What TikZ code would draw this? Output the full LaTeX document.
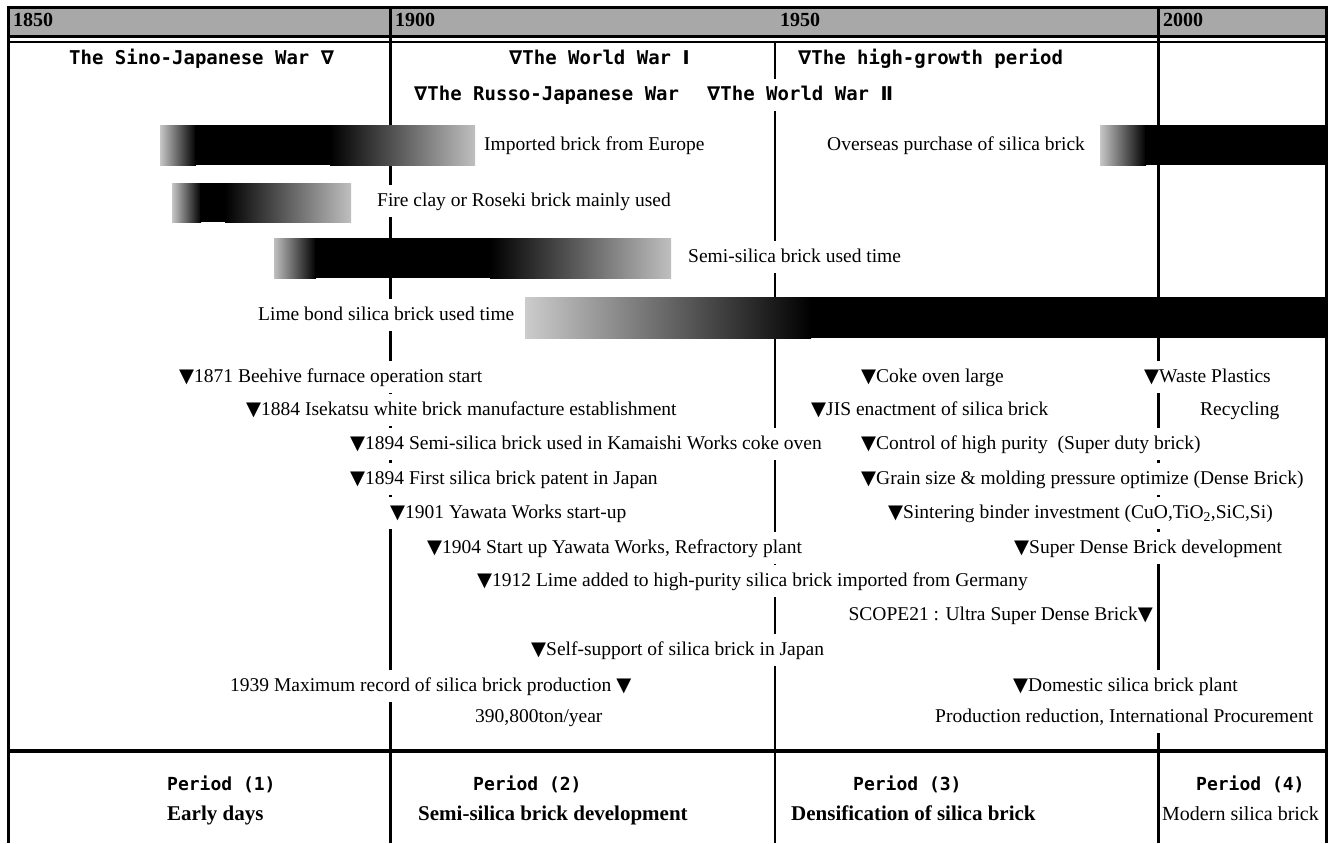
\documentclass[tikz,border=0pt]{standalone}
\usepackage{fontspec}
\setmainfont{Liberation Serif}
\newfontfamily\gothic{DejaVu Sans Mono}
\newfontfamily\symf{DejaVu Sans}
\newcommand{\tri}{{\symf ▼}}
\newcommand{\nab}{{\symf\bfseries ∇}}
\definecolor{hdrgray}{RGB}{168,168,168}
\newcommand{\seg}[6]{\fill[left color=#5, right color=#6, draw=none] (#1,#3) rectangle (#2,#4);}
\tikzset{
  ev/.style={anchor=west, fill=white, inner xsep=1pt, inner ysep=9pt, font=\fontsize{19.5}{22}\selectfont, text height=13pt, text depth=1.5pt},
  war/.style={anchor=west, fill=white, inner xsep=1pt, inner ysep=8pt, font=\gothic\bfseries\fontsize{19}{22}\selectfont, text height=13pt, text depth=3pt},
  yr/.style={anchor=west, inner sep=0pt, font=\bfseries\fontsize{20}{22}\selectfont, text height=13pt, text depth=3pt},
  per/.style={anchor=west, inner sep=0pt, font=\gothic\bfseries\fontsize{18}{20}\selectfont, text height=13pt, text depth=3pt},
  sub/.style={anchor=west, inner sep=0pt, font=\bfseries\fontsize{21}{23}\selectfont, text height=14pt, text depth=3pt},
  thickl/.style={line width=3pt},
  thinl/.style={line width=1.5pt},
}
\begin{document}
\begin{tikzpicture}[x=1pt,y=-1pt]
\useasboundingbox (0,0) rectangle (1335,843);
% header
\fill[hdrgray] (8,8) rectangle (1326,37);
% internal vertical lines
\draw[thickl] (390,8) -- (390,843);
\draw[thickl] (1158,8) -- (1158,843);
\draw[thinl] (775,42) -- (775,843);
% bars
\seg{160}{196}{125}{165}{black!22}{black}
\fill[black] (195,125) rectangle (331,165);
\seg{330}{475}{125}{165}{black}{black!25}
\seg{172}{201}{183}{222}{black!22}{black}
\fill[black] (200,183) rectangle (226,222);
\seg{225}{351}{183}{222}{black}{black!25}
\seg{274}{316}{238}{278}{black!25}{black}
\fill[black] (315,238) rectangle (491,278);
\seg{490}{671}{238}{278}{black}{black!25}
\seg{525}{811}{297}{338}{black!20}{black}
\fill[black] (810,297) rectangle (1326,338);
\seg{1100}{1146}{125}{165}{black!22}{black}
\fill[black] (1145,125) rectangle (1326,165);
% years
\node[yr] (y1850) at (13,22) {1850};
\node[yr] (y1900) at (395,22) {1900};
\node[yr] (y1950) at (780,22) {1950};
\node[yr] (y2000) at (1163,22) {2000};
% wars
\node[war] (w1) at (68,60) {The Sino-Japanese War \nab};
\node[war] (w2) at (508,60) {\nab The World War {\symf Ⅰ}};
\node[war] (w3) at (797,60) {\nab The high-growth period};
\node[war] (w4) at (413,95) {\nab The Russo-Japanese War};
\node[war] (w5) at (706,95) {\nab The World War {\symf Ⅱ}};
% bar labels
\node[ev] (b1) at (483,145) {Imported brick from Europe};
\node[ev] (b5) at (826,145) {Overseas purchase of silica brick};
\node[ev] (b2) at (376,201) {Fire clay or Roseki brick mainly used};
\node[ev] (b3) at (687,257) {Semi-silica brick used time};
\node[ev] (b4) at (257,315) {Lime bond silica brick used time};
% events left
\node[ev] (e1) at (178,377) {\tri 1871 Beehive furnace operation start};
\node[ev] (e2) at (245,410) {\tri 1884 Isekatsu white brick manufacture establishment};
\node[ev] (e3) at (349,444) {\tri 1894 Semi-silica brick used in Kamaishi Works coke oven};
\node[ev] (e4) at (349,479) {\tri 1894 First silica brick patent in Japan};
\node[ev] (e5) at (389,513) {\tri 1901 Yawata Works start-up};
\node[ev] (e6) at (426,548) {\tri 1904 Start up Yawata Works, Refractory plant};
\node[ev] (e7) at (476,581) {\tri 1912 Lime added to high-purity silica brick imported from Germany};
\node[ev] (e8) at (530,650) {\tri Self-support of silica brick in Japan};
\node[ev] (e9) at (229,686) {1939 Maximum record of silica brick production \tri};
\node[ev] (e10) at (474,717) {390,800ton/year};
% events right
\node[ev] (f1) at (860,377) {\tri Coke oven large};
\node[ev] (f2) at (810,410) {\tri JIS enactment of silica brick};
\node[ev] (f3) at (860,444) {\tri Control of high purity \ (Super duty brick)};
\node[ev] (f4) at (860,479) {\tri Grain size \& molding pressure optimize (Dense Brick)};
\node[ev] (f5) at (887,513) {\tri Sintering binder investment (CuO,TiO\textsubscript{2},SiC,Si)};
\node[ev] (f6) at (1013,548) {\tri Super Dense Brick development};
\node[ev, anchor=east] (f7) at (1154,615) {SCOPE21 : Ultra Super Dense Brick\tri};
\node[ev] (f8) at (1012,686) {\tri Domestic silica brick plant};
\node[ev] (f9) at (934,717) {Production reduction, International Procurement};
\node[ev] (g1) at (1143,377) {\tri Waste Plastics};
\node[ev] (g2) at (1199,410) {Recycling};
% periods
\node[per] (p1) at (167,785) {Period (1)};
\node[per] (p2) at (473,785) {Period (2)};
\node[per] (p3) at (853,785) {Period (3)};
\node[per] (p4) at (1196,785) {Period (4)};
\node[sub] (s1) at (167,815) {Early days};
\node[sub] (s2) at (418,815) {Semi-silica brick development};
\node[sub] (s3) at (791,815) {Densification of silica brick};
\node[anchor=west, inner sep=0pt, font=\fontsize{20}{22}\selectfont, text height=14pt, text depth=3pt] (s4) at (1162,815) {Modern silica brick};
% frame
\draw[thickl] (8,8) -- (1326,8);
\draw[thickl] (8,37) -- (1326,37);
\draw[line width=1.2pt] (8,42) -- (1326,42);
\draw[line width=3.5pt] (8,751) -- (1326,751);
\draw[thickl] (8,6.5) -- (8,843);
\draw[thickl] (1326,6.5) -- (1326,843);
\end{tikzpicture}
\end{document}
